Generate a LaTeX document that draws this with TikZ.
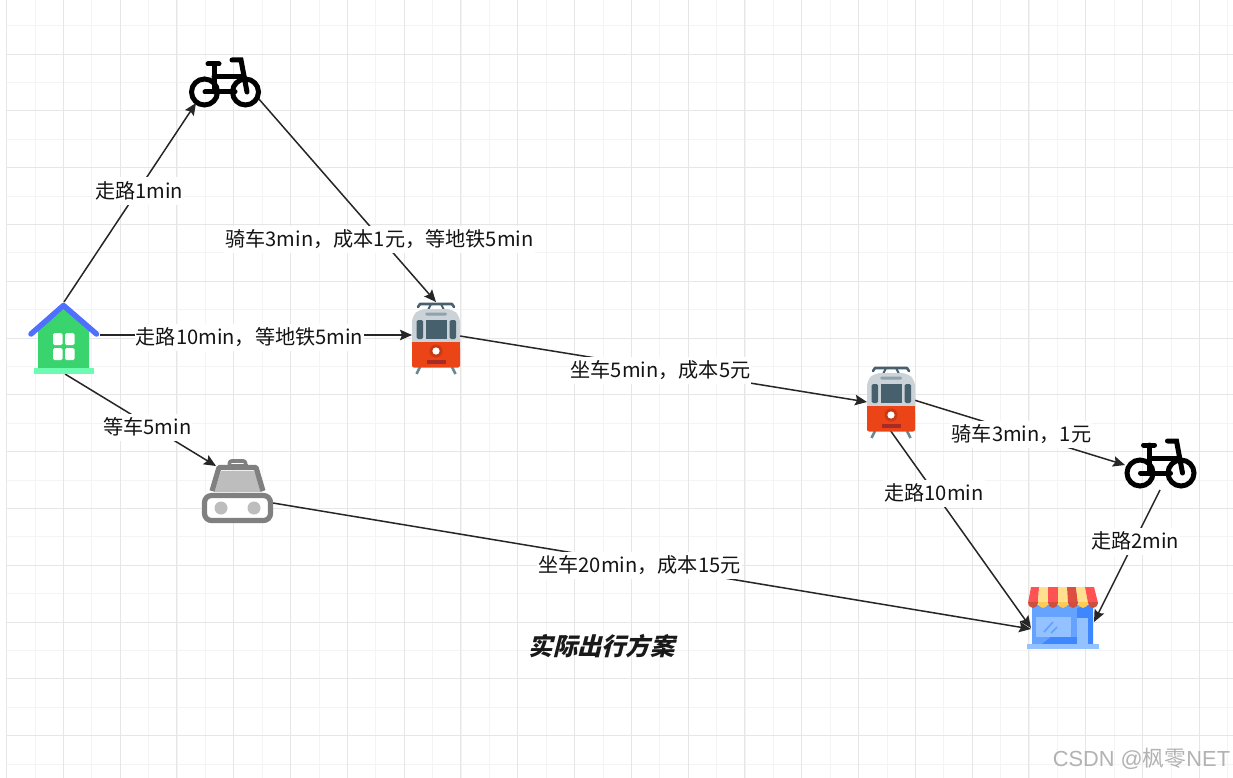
\documentclass[tikz,border=0pt]{standalone}
\usepackage{fontspec}
\setmainfont{Noto Sans CJK SC}
\newfontfamily\wmfont{Liberation Sans}
\newfontfamily\wmcjk{Noto Sans CJK SC}
\usetikzlibrary{arrows.meta,calc}
\definecolor{gmaj}{HTML}{E6E6E6}
\definecolor{gmin}{HTML}{F4F4F4}
\definecolor{edgec}{HTML}{262626}
\definecolor{tramdark}{HTML}{47606D}
\definecolor{tramleg}{HTML}{6E8592}
\definecolor{tramgrey}{HTML}{CBD3D9}
\definecolor{tramstrip}{HTML}{8FA3AE}
\definecolor{tramred}{HTML}{EB4517}
\definecolor{tramlamp}{HTML}{C93A14}
\definecolor{trambar}{HTML}{A62A26}
\definecolor{homegreen}{HTML}{3AD46E}
\definecolor{homemint}{HTML}{6CFBB0}
\definecolor{homeblue}{HTML}{4F6FFF}
\definecolor{taxilg}{HTML}{BDBDBD}
\definecolor{taxigr}{HTML}{808080}
\definecolor{shopblue}{HTML}{66A3FF}
\definecolor{shopdark}{HTML}{3F87FF}
\definecolor{shoplight}{HTML}{94C1FF}
\definecolor{awnred}{HTML}{FF5252}
\definecolor{awncream}{HTML}{FFE08F}
\definecolor{awndark}{HTML}{DE4F3F}
\definecolor{awnscal}{HTML}{CF4F3F}
\definecolor{awnyel}{HTML}{FFCB52}
\tikzset{
  x=1pt,y=-1pt,
  icon/.style={inner sep=0pt,outer sep=0pt,minimum width=#1,minimum height=#1},
  link/.style={draw=edgec,line width=1.5pt,-{Stealth[length=12pt,width=10.5pt,inset=2pt]}},
  lab/.style={fill=white,inner xsep=1pt,inner ysep=0pt,minimum height=27pt,font=\fontsize{20.15}{22}\selectfont,text=black!92},
  bikeline/.style={draw=black,line width=5pt,line cap=round},
}
\newcommand{\drawbike}[2]{%
\begin{scope}[shift={(#1,#2)}]
 \draw[bikeline] (-20.5,2) circle[radius=13];
 \draw[bikeline] (20.5,2) circle[radius=13];
 \draw[bikeline] (-20,2) -- (10,2);
 \draw[bikeline] (-11,-26) -- (-11,2);
 \draw[bikeline] (-17,-26) -- (-6,-26);
 \draw[bikeline] (-11,-13) -- (19,-13);
 \draw[bikeline] (7,-30) -- (16,-30) -- (22,2);
\end{scope}}
\newcommand{\drawtram}[2]{%
\begin{scope}[shift={(#1,#2)}]
 \draw[tramdark,line width=2.6pt,line cap=round,line join=round] (-18,-31) -- (-16,-34) -- (16,-34) -- (18,-31);
 \draw[tramdark,line width=2pt] (-5,-34) -- (-8,-28) (5,-34) -- (8,-28);
 \draw[tramleg,line width=2.6pt] (-16,29) -- (-19.5,36) (16,29) -- (19.5,36);
 \fill[tramgrey,rounded corners=6pt] (-24,10) -- (-24,-22) -- (-16,-29) -- (16,-29) -- (24,-22) -- (24,10) -- cycle;
 \fill[tramstrip,rounded corners=1.5pt] (-11,-25.5) rectangle (11,-22.5);
 \fill[tramdark,rounded corners=1.5pt] (-19.5,-18) rectangle (-13,1);
 \fill[tramdark,rounded corners=1.5pt] (13.5,-18) rectangle (20,1);
 \fill[tramdark] (-10.5,-18) rectangle (10.5,1);
 \fill[tramred,rounded corners=2pt] (-24,8) rectangle (24,29.5);
 \fill[tramred] (-24,4) rectangle (24,12);
 \fill[tramlamp] (0,13) circle[radius=6.5];
 \fill[white] (0,13) circle[radius=3.6];
 \fill[trambar] (-9.5,21.5) rectangle (9.5,26);
\end{scope}}
\begin{document}
\begin{tikzpicture}
\useasboundingbox (0,0) rectangle (1233,778);
\fill[white] (0,0) rectangle (1233,778);
% grid
\foreach \i in {0,...,43}{
  \pgfmathsetmacro\gx{6.5+28.4*\i}
  \draw[gmin,line width=.8pt] (\gx,0) -- (\gx,778);
}
\foreach \i in {0,...,27}{
  \pgfmathsetmacro\gy{-2.8+28.4*\i}
  \draw[gmin,line width=.8pt] (6.5,\gy) -- (1233,\gy);
}
\foreach \i in {0,...,21}{
  \pgfmathsetmacro\gx{6.5+56.8*\i}
  \draw[gmaj,line width=.9pt] (\gx,0) -- (\gx,778);
}
\foreach \i in {1,...,13}{
  \pgfmathsetmacro\gy{-2.8+56.8*\i}
  \draw[gmaj,line width=.9pt] (6.5,\gy) -- (1233,\gy);
}
% named anchors for icons
\node[icon=72pt] (home) at (64,338) {};
\node[icon=72pt] (bikeA) at (225,83) {};
\node[icon=72pt] (tramA) at (436,338) {};
\node[icon=72pt] (taxi) at (237,491) {};
\node[icon=72pt] (tramB) at (890,401) {};
\node[icon=72pt] (bikeB) at (1160,465) {};
\node[icon=72pt] (shop) at (1062,618) {};
% connectors
\draw[link] (home.north) -- ([shift={(-29,20)}]bikeA.center);
\draw[link] ([shift={(33,15)}]bikeA.center) -- (tramA.north);
\draw[link] ([shift={(0,-3)}]home.east) -- ([shift={(-24,-3)}]tramA.center);
\draw[link] ([shift={(1,0)}]home.south) -- ([shift={(-21,-25)}]taxi.center);
\draw[link] ([shift={(24,-2)}]tramA.center) -- ([shift={(-23,1)}]tramB.center);
\draw[link] ([shift={(36,12)}]taxi.center) -- ([shift={(-31,11)}]shop.center);
\draw[link] ([shift={(24,-1)}]tramB.center) -- ([shift={(-35,0)}]bikeB.center);
\draw[link] ([shift={(0,29)}]tramB.center) -- ([shift={(-31,10)}]shop.center);
\draw[link] ([shift={(0,25)}]bikeB.center) -- ([shift={(32,4)}]shop.center);
% labels
\node[lab] (l1) at (139,191) {走路1min};
\node[lab] (l2) at (379.5,239) {骑车3min，成本1元，等地铁5min};
\node[lab] (l3) at (249.5,337) {走路10min，等地铁5min};
\node[lab] (l4) at (147.5,427) {等车5min};
\node[lab] (l5) at (660.5,370) {坐车5min，成本5元};
\node[lab] (l6) at (639.5,565) {坐车20min，成本15元};
\node[lab] (l7) at (1021.5,434) {骑车3min，1元};
\node[lab] (l8) at (934,493) {走路10min};
\node[lab] (l9) at (1135,541) {走路2min};
\node[font=\fontsize{24.3}{26}\selectfont\bfseries,text=black!90,xslant=.25] (title) at (604,646) {实际出行方案};
% home icon
\fill[homegreen] (38,330) -- (64,309) -- (89,330) -- (89,368) -- (38,368) -- cycle;
\fill[white,rounded corners=1.5pt] (53,333) rectangle (62.5,345);
\fill[white,rounded corners=1.5pt] (65,333) rectangle (74.5,345);
\fill[white,rounded corners=1.5pt] (53,348) rectangle (62.5,360);
\fill[white,rounded corners=1.5pt] (65,348) rectangle (74.5,360);
\fill[homemint] (33.5,368) rectangle (94,374);
\draw[homeblue,line width=5.5pt,line cap=round,line join=round] (31,334) -- (63.5,305.5) -- (96.5,334);
% bikes
\drawbike{225}{90}
\drawbike{1160.5}{471}
% trams
\drawtram{436}{338}
\drawtram{891}{402}
% taxi
\fill[taxilg] (214,492) -- (221,471) -- (254,471) -- (262,492) -- cycle;
\draw[taxigr,line width=5.2pt,line join=round] (212,491) -- (219,467.5) -- (256,467.5) -- (263,491);
\fill[white] (229,460) rectangle (245,466);
\draw[taxigr,line width=3.6pt,line join=round,rounded corners=2pt] (229.5,466) -- (229.5,461) -- (245.5,461) -- (245.5,466);
\fill[taxigr] (227.5,463.5) rectangle (247.5,467);
\fill[white,rounded corners=5pt] (204,495) rectangle (271,521);
\draw[taxigr,line width=5.2pt,rounded corners=7pt] (204.5,495.5) rectangle (270.5,520.5);
\fill[taxilg] (221,508) circle[radius=6.5];
\fill[taxilg] (254,508) circle[radius=6.5];
% shop
\fill[shopblue] (1032,605) rectangle (1093,644);
\fill[shopdark] (1042,644) -- (1062,628) -- (1071,628) -- (1071,637) -- (1077,637) -- (1077,608) -- (1093,604) -- (1093,644) -- cycle;
\fill[shoplight] (1036,617) rectangle (1071,637);
\draw[shopblue,line width=1.8pt] (1044,632) -- (1053,622) (1051,633) -- (1057,627);
\fill[shoplight] (1077,618) rectangle (1088,644);
\fill[shoplight] (1027,644) rectangle (1098.5,649);
\fill[awnred] (1031,587) -- (1039,587) -- (1038,603) -- (1028,603) -- cycle;
\fill[awncream] (1039,587) -- (1048,587) -- (1048,603) -- (1038,603) -- cycle;
\fill[awnred] (1048,587) -- (1058,587) -- (1058,603) -- (1048,603) -- cycle;
\fill[awncream] (1058,587) -- (1067,587) -- (1068,603) -- (1058,603) -- cycle;
\fill[awndark] (1067,587) -- (1076,587) -- (1078,603) -- (1068,603) -- cycle;
\fill[awncream] (1076,587) -- (1085,587) -- (1088,603) -- (1078,603) -- cycle;
\fill[awnred] (1085,587) -- (1094,587) -- (1098,603) -- (1088,603) -- cycle;
\fill[awnscal] (1028,602) arc[start angle=180,end angle=360,x radius=5,y radius=-6];
\fill[awnyel] (1038,602) arc[start angle=180,end angle=360,x radius=5,y radius=-6];
\fill[awnscal] (1048,602) arc[start angle=180,end angle=360,x radius=5,y radius=-6];
\fill[awnyel] (1058,602) arc[start angle=180,end angle=360,x radius=5,y radius=-6];
\fill[awnscal] (1068,602) arc[start angle=180,end angle=360,x radius=5,y radius=-6];
\fill[awnyel] (1078,602) arc[start angle=180,end angle=360,x radius=5,y radius=-6];
\fill[awnscal] (1088,602) arc[start angle=180,end angle=360,x radius=5,y radius=-6];
% watermark
\node[font=\fontsize{21.8}{24}\selectfont,text=black!30,inner sep=0pt] (wm) at (1141.5,759) {{\wmfont CSDN @}{\wmcjk 枫零}{\wmfont NET}};
\end{tikzpicture}
\end{document}
